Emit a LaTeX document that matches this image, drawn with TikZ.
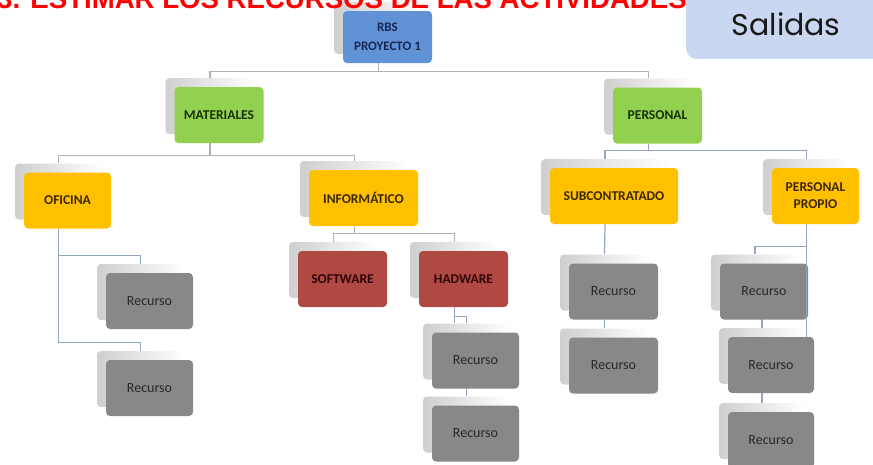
\documentclass[tikz,border=0pt]{standalone}
\usepackage{fontspec}
\setmainfont{Carlito}
\newfontfamily\salidasfont{Poppins}
\newfontfamily\titlefont{Liberation Sans}
\usepackage{tikz}
\usetikzlibrary{shadows,backgrounds}
\definecolor{rbsblue}{RGB}{98,146,214}
\definecolor{rbstext}{RGB}{22,40,80}
\definecolor{catgreen}{RGB}{146,208,80}
\definecolor{cattext}{RGB}{24,48,10}
\definecolor{grpyellow}{RGB}{255,192,0}
\definecolor{grptext}{RGB}{60,40,0}
\definecolor{itred}{RGB}{176,72,68}
\definecolor{ittext}{RGB}{45,5,5}
\definecolor{recgray}{RGB}{136,136,136}
\definecolor{rectext}{RGB}{40,40,40}
\definecolor{salblue}{RGB}{201,216,240}
\definecolor{linkcol}{RGB}{150,166,194}
\tikzset{
box/.style = {rectangle, rounded corners=4pt, minimum width=#1, minimum height=56pt,
              inner sep=1pt, align=center,
              font=\fontsize{13.5}{17}\selectfont\bfseries,
              general shadow={shadow xshift=-9pt, shadow yshift=9pt, opacity=1,
                              left color=gray!38, right color=white}},
box/.default = 89pt, % width of the box
rbsbox/.style = {box=89pt, minimum height=52pt, fill=rbsblue, text=rbstext,
                 font=\fontsize{13}{19}\selectfont\bfseries},
catbox/.style = {box=#1, fill=catgreen, text=cattext},
catbox/.default = 89pt,
grpbox/.style = {box=#1, fill=grpyellow, text=grptext},
grpbox/.default = 89pt,
itbox/.style = {box=#1, fill=itred, text=ittext},
itbox/.default = 89pt,
recbox/.style = {box=#1, fill=recgray, text=rectext,
                 font=\fontsize{14}{17}\selectfont},
recbox/.default = 87pt,
link/.style = {draw=linkcol, line width=1.2pt},
back/.style = {xshift=-9pt, yshift=9pt} % centre of a box's shadow
}
\begin{document}
\begin{tikzpicture}[x=1pt, y=-1pt]
\clip (0,0) rectangle (873,464);

\node[anchor=south west, fill=salblue, rounded corners=10pt, minimum width=200pt,
      minimum height=70pt, text=black!90, font=\salidasfont\fontsize{30}{32}\selectfont]
      (salidas) at (686,59) {Salidas};

\node[rbsbox] (rbs) at (387.5,37) {RBS\\PROYECTO 1};
\node[catbox] (mat) at (219,115) {MATERIALES};
\node[catbox] (per) at (657.5,115.5) {PERSONAL};
\node[grpbox=87pt] (ofi) at (67.5,200.5) {OFICINA};
\node[grpbox=109pt] (inf) at (363.5,198) {INFORMÁTICO};
\node[grpbox=128pt] (subc) at (614,196) {SUBCONTRATADO};
\node[grpbox=87pt] (prop) at (815.5,196) {PERSONAL\\PROPIO};
\node[itbox] (soft) at (342.5,279) {SOFTWARE};
\node[itbox] (hard) at (463.5,279) {HADWARE};
\node[recbox] (ofiA) at (149.5,301) {Recurso};
\node[recbox] (ofiB) at (149.5,388) {Recurso};
\node[recbox] (hardA) at (475.5,360.5) {Recurso};
\node[recbox] (hardB) at (475.5,433.5) {Recurso};
\node[recbox=89pt] (subA) at (613.5,291.5) {Recurso};
\node[recbox=89pt] (subB) at (613.5,365.5) {Recurso};
\node[recbox=88pt] (propA) at (764,291.5) {Recurso};
\node[recbox=86pt] (propB) at (771,365) {Recurso};
\node[recbox=86pt] (propC) at (771,440) {Recurso};

% title, only its lower part is on the page
\node[anchor=base west, text=red, inner sep=0pt,
      font=\titlefont\bfseries\fontsize{27.6}{30}\selectfont] (title) at (-3,8)
      {3. ESTIMAR LOS RECURSOS DE LAS ACTIVIDADES};

\begin{scope}[on background layer]
\draw[link, draw=gray!60] ([xshift=-9pt]rbs.south) -- ++(0,8) -| ([back]mat.north);
\draw[link, draw=gray!60] ([xshift=-9pt]rbs.south) -- ++(0,8) -| ([back]per.north);
\draw[link, draw=gray!60] ([xshift=-9pt]mat.south) -- ++(0,12) -| ([back]ofi.north);
\draw[link, draw=gray!60] ([xshift=-9pt]mat.south) -- ++(0,12) -| ([back]inf.north);
\draw[link] ([xshift=-9pt]per.south) -- ++(0,7) -| ([back]subc.north);
\draw[link] ([xshift=-9pt]per.south) -- ++(0,7) -| ([back]prop.north);
\draw[link, draw=gray!60] ([xshift=-9pt]inf.south) -- ++(0,7) -| ([back]soft.north);
\draw[link, draw=gray!60] ([xshift=-9pt]inf.south) -- ++(0,7) -| ([back]hard.north);
% oficina
\draw[link] ([xshift=-9pt]ofi.south) |- ([shift={(-9pt,17pt)}]ofiA.north) -- ([back]ofiA.north);
\draw[link] ([xshift=-9pt]ofi.south) |- ([shift={(-9pt,17pt)}]ofiB.north) -- ([back]ofiB.north);
% hadware
\draw[link] ([xshift=-9pt]hard.south) -- ++(0,16);
\draw[link] ([xshift=-9pt]hard.south) |- ([shift={(-9pt,16pt)}]hardA.north) -- ([back]hardA.north);
\draw[link] ([back]hardB.north |- hardA.south) -- ([back]hardB.north);
% subcontratado
\draw[link] ([xshift=-9pt]subc.south) -- ([back]subA.north);
\draw[link] ([xshift=-9pt]subA.south) -- ([back]subB.north);
% personal propio
\draw[link] ([xshift=-9pt]prop.south) |- ([shift={(-9pt,17pt)}]propA.north) -- ([back]propA.north);
\draw[link] ([back]propB.north |- propA.south) -- ([back]propB.north);
\draw[link] ([xshift=-9pt]propB.south) -- ([back]propC.north);
\end{scope}
\draw[link] ([xshift=-9pt]prop.south) -- ([xshift=-9pt]prop.south |- propB.north);

\end{tikzpicture}
\end{document}
